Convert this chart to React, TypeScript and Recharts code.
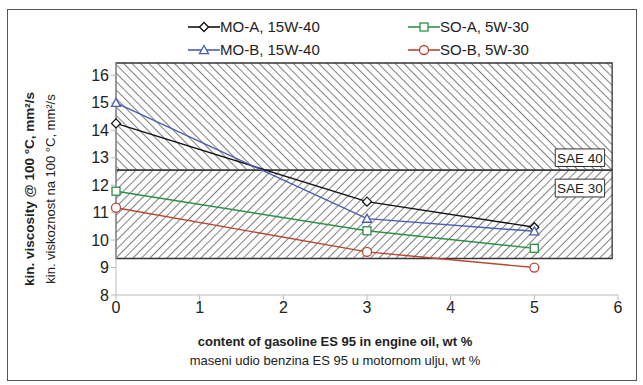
import React from "react";
import {
  Line,
  LineChart,
  ReferenceArea,
  XAxis,
  YAxis,
} from "recharts";

// gasoline content, wt %
const gasoline = [0, 3, 5];

// kinematic viscosity @ 100 °C, mm²/s
const moA = [14.25, 11.4, 10.47];
const moB = [15.0, 10.78, 10.32];
const soA = [11.78, 10.34, 9.7];
const soB = [11.18, 9.57, 9.0];

const xTicks = [0, 1, 2, 3, 4, 5, 6];
const yTicks = [8, 9, 10, 11, 12, 13, 14, 15, 16];

// SAE grade bands
const sae30 = [9.33, 12.55];
const sae40 = [12.55, 16.45];

type Shape = "diamond" | "triangle" | "square" | "circle";

const series: { key: string; name: string; color: string; shape: Shape }[] = [
  { key: "moA", name: "MO-A, 15W-40", color: "#111111", shape: "diamond" },
  { key: "soA", name: "SO-A, 5W-30", color: "#2f8f46", shape: "square" },
  { key: "moB", name: "MO-B, 15W-40", color: "#4a5cb3", shape: "triangle" },
  { key: "soB", name: "SO-B, 5W-30", color: "#b8462f", shape: "circle" },
];

const data = gasoline.map((x, i) => ({
  x,
  moA: moA[i],
  moB: moB[i],
  soA: soA[i],
  soB: soB[i],
}));

const FONT = "'Liberation Sans', Arial, sans-serif";

function Marker({ shape, cx, cy, color }: { shape: Shape; cx: number; cy: number; color: string }) {
  const s = 4.5;
  const common = { fill: "#fff", stroke: color, strokeWidth: 1.3 };
  if (shape === "diamond")
    return <polygon points={`${cx},${cy - s} ${cx + s},${cy} ${cx},${cy + s} ${cx - s},${cy}`} {...common} />;
  if (shape === "triangle")
    return <polygon points={`${cx},${cy - s} ${cx + s},${cy + s * 0.8} ${cx - s},${cy + s * 0.8}`} {...common} />;
  if (shape === "square")
    return <rect x={cx - s + 0.5} y={cy - s + 0.5} width={2 * s - 1} height={2 * s - 1} {...common} />;
  return <circle cx={cx} cy={cy} r={s} {...common} />;
}

function LegendBox() {
  return (
    <div
      style={{
        position: "absolute",
        left: 188,
        top: 18,
        display: "grid",
        gridTemplateColumns: "220px 140px",
        rowGap: 6,
        fontFamily: FONT,
        fontSize: 15,
        color: "#222",
      }}
    >
      {series.map((s) => (
        <div key={s.key} style={{ display: "flex", alignItems: "center", height: 17 }}>
          <svg width={32} height={14}>
            <line x1={0} y1={7} x2={32} y2={7} stroke={s.color} strokeWidth={1.6} />
            <Marker shape={s.shape} cx={16} cy={7} color={s.color} />
          </svg>
          <span>{s.name}</span>
        </div>
      ))}
    </div>
  );
}

function YTitle(props: any) {
  const vb = props.viewBox || {};
  const cy = vb.y + vb.height / 2 + 10;
  return (
    <g fontFamily={FONT} fill="#222">
      <text
        x={34}
        y={cy}
        transform={`rotate(-90, 34, ${cy})`}
        textAnchor="middle"
        fontSize={13.5}
        fontWeight="bold"
      >
        kin. viscosity @ 100 °C, mm²/s
      </text>
      <text x={55} y={cy} transform={`rotate(-90, 55, ${cy})`} textAnchor="middle" fontSize={13}>
        kin. viskoznost na 100 °C, mm²/s
      </text>
    </g>
  );
}

function XTitle(props: any) {
  const vb = props.viewBox || {};
  const cx = vb.x + vb.width / 2 - 32;
  return (
    <g fontFamily={FONT} fill="#222">
      <text x={cx} y={vb.y + 51} textAnchor="middle" fontSize={13} fontWeight="bold">
        content of gasoline ES 95 in engine oil, wt %
      </text>
      <text x={cx} y={vb.y + 70} textAnchor="middle" fontSize={13}>
        maseni udio benzina ES 95 u motornom ulju, wt %
      </text>
    </g>
  );
}

export default function App() {
  return (
    <div style={{ position: "absolute", left: 0, top: 0, width: 643, height: 385, background: "#fff", fontFamily: FONT }}>
      <div
        style={{
          position: "absolute",
          left: 7,
          top: 9,
          width: 630,
          height: 372,
          border: "1px solid #555",
          boxSizing: "border-box",
        }}
      />
      <LegendBox />
      <LineChart
        width={643}
        height={385}
        data={data}
        margin={{ top: 63, right: 25, bottom: 60, left: 76 }}
        style={{ position: "absolute", left: 0, top: 0 }}
      >
        <defs>
          <pattern id="hatch40" width={6} height={6} patternUnits="userSpaceOnUse" patternTransform="rotate(-45)">
            <line x1={0} y1={0} x2={0} y2={6} stroke="#6a6a6a" strokeWidth={1.7} />
          </pattern>
          <pattern id="hatch30" width={6} height={6} patternUnits="userSpaceOnUse" patternTransform="rotate(45)">
            <line x1={0} y1={0} x2={0} y2={6} stroke="#6a6a6a" strokeWidth={1.7} />
          </pattern>
        </defs>
        <XAxis
          type="number"
          dataKey="x"
          domain={[0, 6]}
          ticks={xTicks}
          interval={0}
          height={30}
          stroke="#bbb"
          tickSize={5}
          tick={{ fill: "#222", fontSize: 16, fontFamily: FONT }}
          label={{ content: XTitle }}
        />
        <YAxis
          type="number"
          domain={[8, 16.45]}
          ticks={yTicks}
          interval={0}
          width={40}
          stroke="#bbb"
          tickSize={5}
          tick={{ fill: "#222", fontSize: 16, fontFamily: FONT }}
          label={{ content: YTitle }}
          allowDataOverflow
        />
        <ReferenceArea x1={0} x2={5.93} y1={sae40[0]} y2={sae40[1]} fill="url(#hatch40)" fillOpacity={1} stroke="#333" strokeWidth={1.3} />
        <ReferenceArea x1={0} x2={5.93} y1={sae30[0]} y2={sae30[1]} fill="url(#hatch30)" fillOpacity={1} stroke="#333" strokeWidth={1.3} />
        <ReferenceArea
          x1={5.25}
          x2={5.84}
          y1={12.68}
          y2={13.32}
          fill="#fff"
          fillOpacity={1}
          stroke="#333"
          label={{ value: "SAE 40", fill: "#222", fontSize: 13.5, fontFamily: FONT }}
        />
        <ReferenceArea
          x1={5.25}
          x2={5.84}
          y1={11.57}
          y2={12.22}
          fill="#fff"
          fillOpacity={1}
          stroke="#333"
          label={{ value: "SAE 30", fill: "#222", fontSize: 13.5, fontFamily: FONT }}
        />
        {series.map((s) => (
          <Line
            key={s.key}
            dataKey={s.key}
            name={s.name}
            stroke={s.color}
            strokeWidth={1.4}
            isAnimationActive={false}
            dot={(p: any) => <Marker key={`${s.key}-${p.index}`} shape={s.shape} cx={p.cx} cy={p.cy} color={s.color} />}
            activeDot={false}
          />
        ))}
      </LineChart>
    </div>
  );
}
